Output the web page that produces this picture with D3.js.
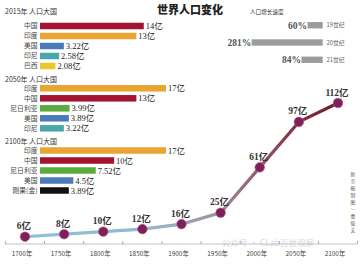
<!DOCTYPE html>
<html><head><meta charset="utf-8">
<script src="https://cdn.jsdelivr.net/npm/d3@7/dist/d3.min.js"></script>
<style>
html,body{margin:0;padding:0;background:#fff;}
svg{display:block;}
.sans{font-family:"Noto Sans CJK SC","Noto Sans",sans-serif;}
.serif{font-family:"Liberation Serif","DejaVu Serif","Noto Sans CJK SC",serif;}
</style></head>
<body>
<svg id="c" width="360" height="264"></svg>
<script>
// ---- data ----
const groupTitles = ["2015年 人口大国", "2050年 人口大国", "2100年 人口大国"];
const cats2015 = ["中国", "印度", "美国", "印尼", "巴西"];
const vals2015 = [14, 13, 3.22, 2.58, 2.08];
const labs2015 = ["14亿", "13亿", "3.22亿", "2.58亿", "2.08亿"];
const cats2050 = ["印度", "中国", "尼日利亚", "美国", "印尼"];
const vals2050 = [17, 13, 3.99, 3.89, 3.22];
const labs2050 = ["17亿", "13亿", "3.99亿", "3.89亿", "3.22亿"];
const cats2100 = ["印度", "中国", "尼日利亚", "美国", "刚果(金)"];
const vals2100 = [17, 10, 7.52, 4.5, 3.89];
const labs2100 = ["17亿", "10亿", "7.52亿", "4.5亿", "3.89亿"];

const years = ["1700年", "1750年", "1800年", "1850年", "1900年", "1950年", "2000年", "2050年", "2100年"];
const population = [6, 8, 10, 12, 16, 25, 61, 97, 112];
const popLabels = ["6亿", "8亿", "10亿", "12亿", "16亿", "25亿", "61亿", "97亿", "112亿"];

const growthCentury = ["19世纪", "20世纪", "21世纪"];
const growthRate = [60, 281, 84];
const growthLabels = ["60%", "281%", "84%"];

const sourceText = "新京报制图/曹俊夫";

const countryColors = {
  "中国": "#a3122e", "印度": "#e9a431", "美国": "#4a7bb8", "印尼": "#4aa7a9",
  "巴西": "#ecc62c", "尼日利亚": "#5cab3e", "刚果(金)": "#111111"
};

const svg = d3.select("#c");

// ---- title ----
svg.append("text").attr("class", "sans").attr("x", 190).attr("y", 14)
  .attr("text-anchor", "middle").attr("font-size", 11).attr("font-weight", 900)
  .attr("fill", "#222").text("世界人口变化");

// ---- left bar groups ----
const xBar = d3.scaleLinear().domain([0, 17]).range([40, 166]);
const groups = [
  {title: groupTitles[0], cats: cats2015, vals: vals2015, labs: labs2015, titleY: 14, top: 21},
  {title: groupTitles[1], cats: cats2050, vals: vals2050, labs: labs2050, titleY: 82, top: 83.3},
  {title: groupTitles[2], cats: cats2100, vals: vals2100, labs: labs2100, titleY: 144, top: 145.5}
];
groups.forEach(g => {
  const y = d3.scaleBand().domain(g.cats).range([g.top, g.top + 50]).paddingInner(0.35).paddingOuter(0.175);
  const G = svg.append("g");
  G.append("text").attr("class", "sans").attr("x", 5).attr("y", g.titleY)
    .attr("font-size", 7).attr("fill", "#333").text(g.title);
  g.cats.forEach((c, i) => {
    G.append("rect").attr("x", xBar(0)).attr("y", y(c))
      .attr("width", xBar(g.vals[i]) - xBar(0)).attr("height", y.bandwidth())
      .attr("fill", countryColors[c]);
    G.append("text").attr("class", "sans").attr("x", 37.5).attr("y", y(c) + y.bandwidth() / 2)
      .attr("dy", "0.35em").attr("text-anchor", "end").attr("font-size", 6.8)
      .attr("fill", "#444").text(c);
    G.append("text").attr("class", "serif").attr("x", xBar(g.vals[i]) + 2)
      .attr("y", y(c) + y.bandwidth() / 2).attr("dy", "0.36em")
      .attr("font-size", 8.5).attr("fill", "#222").text(g.labs[i]);
  });
});

// ---- growth rate ----
svg.append("text").attr("class", "sans").attr("x", 250).attr("y", 13.5)
  .attr("font-size", 5.6).attr("fill", "#333").text("人口增长速度");
const gW = d3.scaleLinear().domain([0, 281]).range([0, 71]);
const gY = d3.scaleBand().domain(growthCentury).range([16.5, 68.5]).paddingInner(0.63).paddingOuter(0.32);
growthCentury.forEach((c, i) => {
  const x0 = 322.7 - gW(growthRate[i]);
  svg.append("rect").attr("x", x0).attr("y", gY(c)).attr("width", gW(growthRate[i]))
    .attr("height", gY.bandwidth()).attr("fill", "#9c9c9c");
  svg.append("text").attr("class", "serif").attr("x", x0 - 0.5).attr("y", gY(c) + gY.bandwidth() / 2)
    .attr("dy", "0.36em").attr("text-anchor", "end").attr("font-size", 9.5).attr("font-weight", "bold")
    .attr("fill", "#555").text(growthLabels[i]);
  svg.append("text").attr("class", "sans").attr("x", 326.5).attr("y", gY(c) + gY.bandwidth() / 2)
    .attr("dy", "0.36em").attr("font-size", 5.8).attr("fill", "#666").text(c);
});

// ---- line chart ----
const xP = d3.scalePoint().domain(years).range([25, 338]);
const xB = d3.scaleBand().domain(years).range([5.4, 357.6]);
const yL = d3.scaleLinear().domain([0, 112]).range([244.3, 103]);

// axis
const axisY = 244;
svg.append("line").attr("x1", 5).attr("x2", 357).attr("y1", axisY).attr("y2", axisY)
  .attr("stroke", "#b5b5b5").attr("stroke-width", 0.8);
const edges = years.map(d => xB(d)).concat([xB(years[years.length - 1]) + xB.bandwidth()]);
svg.selectAll("line.tk").data(edges).join("line").attr("class", "tk")
  .attr("x1", d => d).attr("x2", d => d).attr("y1", axisY).attr("y2", axisY - 3)
  .attr("stroke", "#999").attr("stroke-width", 0.8);
svg.selectAll("text.yr").data(years).join("text").attr("class", "yr sans")
  .attr("x", d => xP(d) - 3).attr("y", 255.5).attr("text-anchor", "middle")
  .attr("font-size", 6.4).attr("fill", "#444").text(d => d);

// gradient
const defs = svg.append("defs");
const grad = defs.append("linearGradient").attr("id", "lg").attr("gradientUnits", "userSpaceOnUse")
  .attr("x1", xP(years[0])).attr("x2", xP(years[8])).attr("y1", 0).attr("y2", 0);
[[0, "#8cc3d8"], [0.4, "#93b8cb"], [0.5, "#a0a8b4"], [0.62, "#9d8e98"], [0.74, "#985a6a"], [0.87, "#84303f"], [1, "#6d1c30"]]
  .forEach(s => grad.append("stop").attr("offset", s[0]).attr("stop-color", s[1]));

const pts = years.map((y, i) => [xP(y), yL(population[i])]);
svg.append("path").attr("d", d3.line()(pts)).attr("fill", "none")
  .attr("stroke", "url(#lg)").attr("stroke-width", 3.2).attr("stroke-linejoin", "round");

svg.selectAll("circle.pt").data(population).join("circle").attr("class", "pt")
  .attr("cx", (d, i) => xP(years[i])).attr("cy", d => yL(d)).attr("r", 4.8)
  .attr("fill", "#80205a").attr("stroke", "#b0608a").attr("stroke-width", 0.6);

svg.selectAll("text.pl").data(population).join("text").attr("class", "pl serif")
  .attr("x", (d, i) => xP(years[i]) - 1).attr("y", d => yL(d) - 7.5)
  .attr("text-anchor", "middle").attr("font-size", 9.5).attr("font-weight", "bold")
  .attr("fill", "#333").text((d, i) => popLabels[i]);

// source (vertical, stacked characters)
const srcChars = Array.from(sourceText);
svg.selectAll("text.src").data(srcChars).join("text").attr("class", "src sans")
  .attr("x", 353).attr("y", (d, i) => 176 + i * 7).attr("text-anchor", "middle")
  .attr("font-size", 4.8).attr("fill", "#555")
  .attr("transform", (d, i) => d === "/" ? `rotate(90,353,${174.5 + i * 7})` : null)
  .text(d => d);

// watermark
svg.append("text").attr("class", "sans").attr("x", 268).attr("y", 246)
  .attr("text-anchor", "middle").attr("font-size", 8.5).attr("fill", "#aab").attr("opacity", 0.45)
  .text("公众号 · CLab百世观察");
</script>
</body></html>
